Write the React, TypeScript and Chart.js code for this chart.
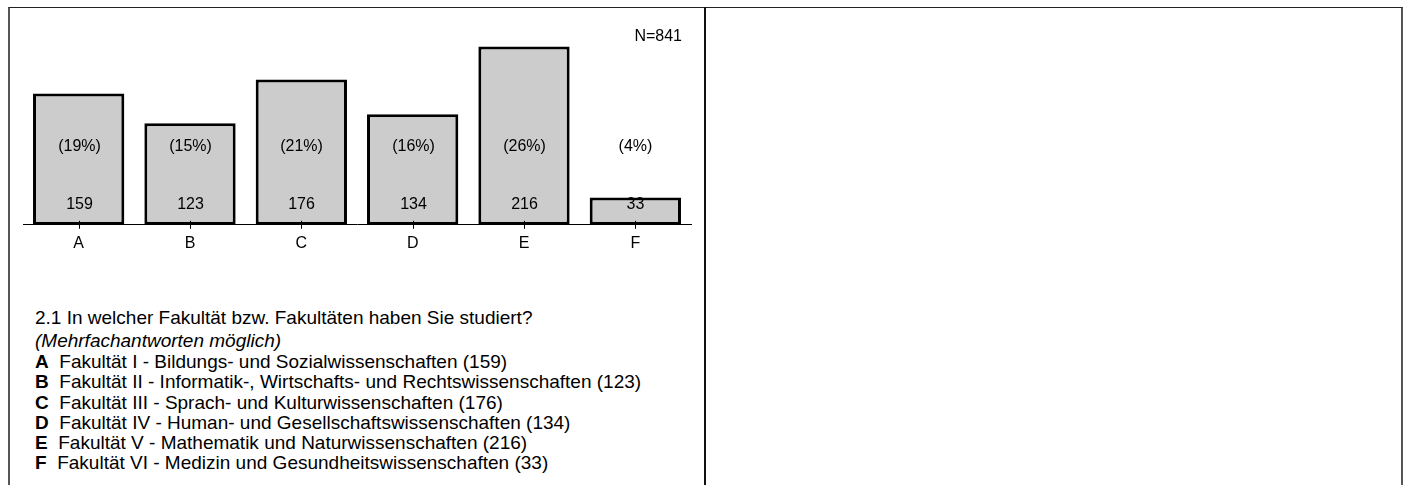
import React, { useEffect, useRef } from "react";
import { Chart, registerables } from "chart.js";

Chart.register(...registerables);

const categories = ["A", "B", "C", "D", "E", "F"];
const counts = [159, 123, 176, 134, 216, 33];
const percentLabels = ["(19%)", "(15%)", "(21%)", "(16%)", "(26%)", "(4%)"];
const totalN = 841;
const yMax = 248;
const percentRowValue = 95;

const question = "2.1 In welcher Fakultät bzw. Fakultäten haben Sie studiert?";
const note = "(Mehrfachantworten möglich)";
const facultyNames = [
  "Fakultät I - Bildungs- und Sozialwissenschaften",
  "Fakultät II - Informatik-, Wirtschafts- und Rechtswissenschaften",
  "Fakultät III - Sprach- und Kulturwissenschaften",
  "Fakultät IV - Human- und Gesellschaftswissenschaften",
  "Fakultät V - Mathematik und Naturwissenschaften",
  "Fakultät VI - Medizin und Gesundheitswissenschaften",
];

const FONT = "'Liberation Sans', Arial, Helvetica, sans-serif";

const labelPlugin = {
  id: "barLabels",
  afterDatasetsDraw(chart: any) {
    const { ctx, scales, chartArea } = chart;
    const xs = scales.x;
    const ys = scales.y;
    const base = ys.getPixelForValue(0);
    const pctY = ys.getPixelForValue(percentRowValue);
    ctx.save();
    ctx.fillStyle = "#000";
    ctx.strokeStyle = "#000";
    ctx.lineWidth = 1;
    ctx.font = `16px ${FONT}`;
    ctx.textAlign = "center";
    ctx.textBaseline = "middle";
    categories.forEach((_, i) => {
      const cx = Math.round(xs.getPixelForValue(i)) + 0.5;
      ctx.beginPath();
      ctx.moveTo(cx, base - 4);
      ctx.lineTo(cx, base + 4);
      ctx.stroke();
      ctx.fillText(String(counts[i]), cx, base - 20);
      ctx.fillText(percentLabels[i], cx, pctY);
    });
    ctx.textAlign = "right";
    ctx.fillText(`N=${totalN}`, chartArea.right - 9, chartArea.top + 17);
    ctx.restore();
  },
};

function BarChart() {
  const ref = useRef<HTMLCanvasElement | null>(null);
  useEffect(() => {
    if (!ref.current) return;
    const chart = new Chart(ref.current, {
      type: "bar",
      data: {
        labels: categories,
        datasets: [
          {
            data: counts,
            backgroundColor: "#cccccc",
            borderColor: "#000000",
            borderWidth: 3,
            borderSkipped: false,
            barPercentage: 0.82,
            categoryPercentage: 1,
          },
        ],
      },
      options: {
        responsive: false,
        animation: false,
        layout: { padding: { left: 23, right: 14, top: 20, bottom: 8 } },
        plugins: {
          legend: { display: false },
          tooltip: { enabled: false },
          title: { display: false },
        },
        scales: {
          x: {
            grid: { display: false, drawTicks: false },
            border: { display: true, color: "#000", width: 1 },
            ticks: {
              color: "#000",
              padding: 9,
              font: { family: FONT, size: 16 },
            },
          },
          y: {
            display: false,
            min: 0,
            max: yMax,
          },
        },
      },
      plugins: [labelPlugin],
    });
    return () => chart.destroy();
  }, []);
  return (
    <canvas
      ref={ref}
      width={705}
      height={270}
      style={{ position: "absolute", left: 0, top: 0, width: 705, height: 270 }}
    />
  );
}

const lineTops = [308, 331, 352, 372, 392.5, 413, 433, 453];

export default function App() {
  const lineStyle = (i: number): React.CSSProperties => ({
    position: "absolute",
    left: 35,
    top: lineTops[i],
    fontSize: 19,
    lineHeight: "20px",
    color: "#000",
    whiteSpace: "pre",
  });
  return (
    <div style={{ position: "absolute", left: 0, top: 0, width: 1407, height: 485, overflow: "hidden", fontFamily: FONT, background: "#fff" }}>
      <div
        style={{
          position: "absolute",
          left: 8,
          top: 7,
          width: 1391,
          height: 600,
          borderLeft: "2px solid #555",
          borderRight: "2px solid #555",
          borderTop: "1px solid #222",
        }}
      />
      <div style={{ position: "absolute", left: 704, top: 7, width: 2, height: 600, background: "#111" }} />
      <BarChart />
      <div style={lineStyle(0)}>{question}</div>
      <div style={{ ...lineStyle(1), fontStyle: "italic" }}>{note}</div>
      {facultyNames.map((name, i) => (
        <div key={categories[i]} style={lineStyle(i + 2)}>
          <b>{categories[i]}</b>{"  "}{name} ({counts[i]})
        </div>
      ))}
    </div>
  );
}
